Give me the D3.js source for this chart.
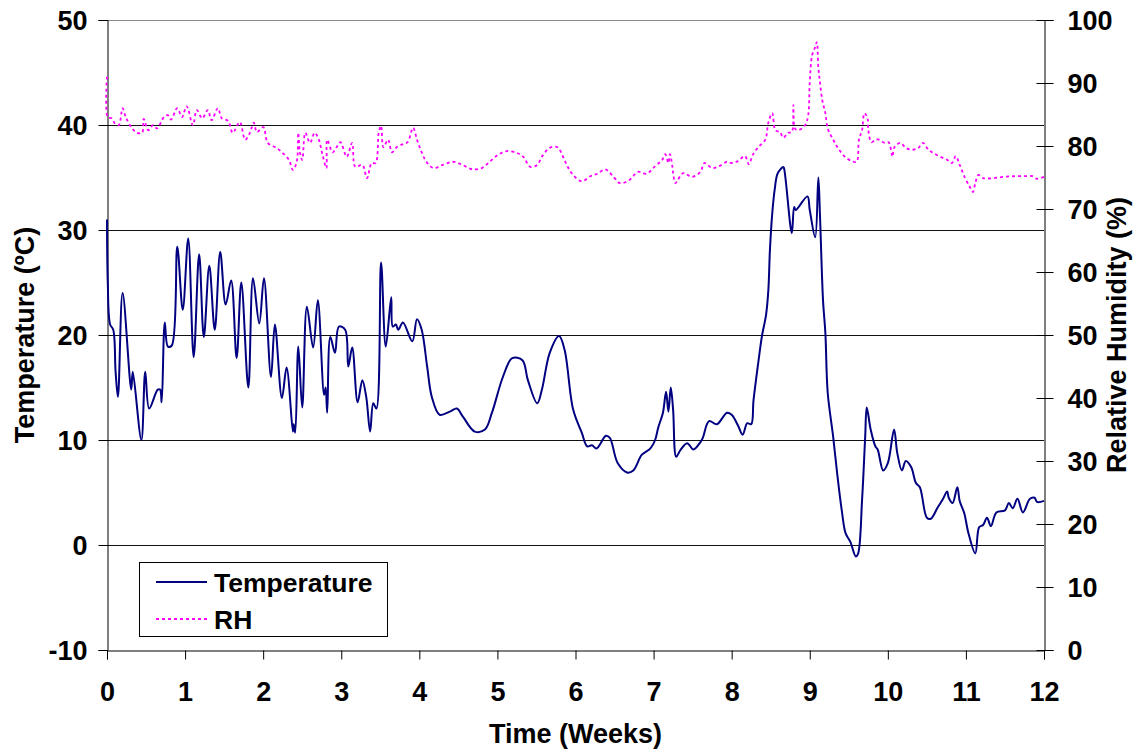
<!DOCTYPE html>
<html>
<head>
<meta charset="utf-8">
<script src="https://cdn.jsdelivr.net/npm/d3@7"></script>
<style>
  html, body { margin: 0; padding: 0; background: #fff; }
  svg { display: block; }
  text { font-family: "Liberation Sans", Arial, sans-serif; font-weight: bold; fill: #000; }
</style>
</head>
<body>
<svg id="chart" width="1138" height="754"></svg>
<script>
// Logged temperature (°C) over time (weeks)
const tempWeeks = [0.00,0.01,0.04,0.08,0.11,0.14,0.20,0.31,0.33,0.44,0.49,0.54,0.65,0.68,0.70,0.74,0.78,0.83,0.90,0.97,1.04,1.11,1.18,1.24,1.31,1.38,1.45,1.52,1.59,1.66,1.72,1.81,1.87,1.95,2.01,2.10,2.15,2.24,2.30,2.38,2.39,2.41,2.45,2.50,2.56,2.64,2.70,2.78,2.80,2.82,2.86,2.92,2.97,3.05,3.09,3.14,3.21,3.27,3.32,3.37,3.41,3.45,3.51,3.57,3.64,3.66,3.70,3.73,3.79,3.91,3.97,4.03,4.10,4.16,4.26,4.39,4.48,4.56,4.71,4.84,4.93,5.07,5.19,5.32,5.39,5.51,5.57,5.67,5.79,5.86,5.97,6.08,6.15,6.21,6.27,6.39,6.44,6.54,6.66,6.74,6.85,6.96,7.02,7.06,7.12,7.16,7.19,7.22,7.25,7.29,7.34,7.43,7.51,7.60,7.63,7.71,7.81,7.94,8.00,8.08,8.14,8.20,8.25,8.28,8.35,8.39,8.44,8.47,8.49,8.52,8.55,8.59,8.66,8.67,8.77,8.80,8.82,8.97,9.00,9.07,9.11,9.13,9.17,9.20,9.23,9.30,9.35,9.41,9.46,9.52,9.59,9.62,9.67,9.71,9.73,9.78,9.84,9.87,9.94,10.00,10.08,10.12,10.18,10.23,10.30,10.36,10.41,10.50,10.55,10.64,10.70,10.76,10.78,10.83,10.89,10.92,10.98,11.03,11.12,11.17,11.22,11.27,11.32,11.39,11.50,11.55,11.60,11.66,11.73,11.82,11.88,11.91,12.00];
const tempValues = [31.0,25.0,21.0,20.5,16.5,14.1,24.0,14.8,16.5,10.0,16.5,13.0,14.8,14.8,13.6,21.2,18.9,19.0,28.4,22.4,29.2,17.9,27.7,19.8,26.6,20.5,27.9,22.9,25.2,17.8,25.0,15.0,25.4,21.1,25.4,16.0,21.0,14.0,16.9,10.8,11.5,10.7,18.9,13.1,22.7,18.8,23.3,14.3,15.0,12.6,19.8,18.3,20.8,20.5,17.0,18.8,13.6,15.7,14.1,10.8,13.5,13.0,26.9,18.9,23.6,20.8,21.0,20.5,21.2,19.4,21.5,20.5,17.0,14.1,12.4,12.7,13.0,12.2,10.8,11.0,12.6,16.0,17.8,17.6,15.7,13.5,14.8,18.3,19.9,18.6,12.9,10.7,9.4,9.5,9.2,10.4,10.2,7.8,6.9,7.1,8.6,9.2,10.0,11.2,12.6,14.6,12.7,15.0,12.9,8.4,9.0,9.7,9.1,9.8,10.2,11.8,11.5,12.6,12.4,11.4,10.5,11.6,11.5,13.8,17.9,20.0,21.9,24.3,28.1,31.6,33.8,35.4,36.0,35.9,29.7,32.2,31.9,33.2,31.9,29.3,35.0,31.6,23.3,20.2,14.5,10.3,6.9,3.3,1.1,0.3,-1.1,-0.8,4.3,10.3,13.1,11.0,9.4,9.1,7.1,7.8,11.0,8.8,7.1,8.0,7.4,5.9,5.5,2.6,2.5,3.6,4.3,5.1,4.5,4.0,5.5,4.2,3.0,1.2,-0.8,1.7,1.9,2.6,1.8,3.1,3.3,4.0,3.5,4.4,3.1,4.4,4.5,4.1,4.2];

// Relative humidity (%) over time (weeks)
const rhWeeks = [0.00,0.01,0.06,0.10,0.15,0.20,0.24,0.31,0.38,0.45,0.47,0.53,0.59,0.64,0.73,0.78,0.82,0.90,0.96,1.02,1.10,1.15,1.22,1.29,1.34,1.42,1.47,1.55,1.61,1.70,1.77,1.83,1.88,1.92,2.00,2.06,2.17,2.24,2.33,2.38,2.43,2.45,2.47,2.50,2.54,2.60,2.66,2.71,2.76,2.81,2.82,2.89,2.94,2.99,3.07,3.14,3.18,3.27,3.33,3.39,3.44,3.48,3.51,3.54,3.60,3.65,3.71,3.79,3.85,3.92,3.97,4.03,4.09,4.18,4.30,4.43,4.55,4.68,4.80,4.90,5.01,5.12,5.25,5.33,5.42,5.51,5.57,5.67,5.77,5.84,5.90,5.97,6.08,6.19,6.28,6.38,6.48,6.57,6.69,6.80,6.91,7.02,7.11,7.15,7.19,7.21,7.24,7.25,7.28,7.31,7.38,7.49,7.60,7.65,7.75,7.84,7.94,8.00,8.08,8.17,8.22,8.27,8.34,8.43,8.47,8.52,8.56,8.62,8.66,8.72,8.77,8.79,8.81,8.85,8.94,8.98,9.00,9.03,9.07,9.09,9.11,9.13,9.16,9.20,9.23,9.30,9.36,9.45,9.54,9.60,9.63,9.67,9.70,9.74,9.75,9.79,9.84,9.89,9.96,10.01,10.06,10.08,10.16,10.23,10.31,10.39,10.45,10.52,10.58,10.67,10.76,10.82,10.87,10.92,10.99,11.05,11.09,11.12,11.16,11.22,11.35,11.48,11.61,11.73,11.85,11.91,12.00];
const rhValues = [91.0,84.6,84.4,83.6,83.3,86.0,84.6,83.0,82.1,82.1,84.3,82.5,83.3,82.8,84.6,84.9,84.2,86.0,84.6,86.3,83.3,85.7,84.4,85.7,84.1,86.0,84.4,84.0,82.1,83.8,81.0,82.1,83.7,82.2,83.0,80.5,79.7,79.0,77.8,76.2,77.5,82.1,79.0,77.8,82.1,80.5,82.1,81.1,78.6,76.5,81.0,79.0,79.8,80.6,78.3,80.5,76.7,77.0,74.9,77.3,77.3,82.1,83.2,79.8,81.0,79.0,79.8,80.3,80.6,82.9,81.0,79.0,77.5,76.5,77.0,77.5,77.0,76.3,76.5,77.5,78.6,79.2,78.9,78.3,76.7,77.0,78.3,79.7,79.8,78.3,76.7,75.4,74.4,75.2,75.6,76.3,75.2,74.1,74.6,75.9,75.6,76.8,77.8,78.7,77.3,78.7,76.8,75.7,74.1,74.6,75.7,75.1,75.9,77.3,76.5,76.8,77.5,77.3,77.6,78.4,77.1,78.6,79.8,81.0,83.7,85.2,82.5,82.2,81.3,82.1,82.2,86.5,82.8,82.5,83.3,84.9,90.0,94.4,95.7,96.5,92.5,90.2,87.3,85.2,82.8,81.0,79.7,78.3,77.6,77.5,81.0,82.5,85.2,84.4,82.5,80.6,81.0,81.0,80.5,80.6,78.3,79.7,80.5,79.7,79.4,79.7,80.5,79.4,78.9,78.3,77.8,77.3,78.4,77.0,74.9,73.5,72.7,74.1,75.4,74.9,74.9,75.1,75.2,75.2,75.2,74.8,75.1];

const weekTicks = [0,1,2,3,4,5,6,7,8,9,10,11,12];
const tempTicks = [-10,0,10,20,30,40,50];
const rhTicks = [0,10,20,30,40,50,60,70,80,90,100];

const seriesNames = ["Temperature", "RH"];
const xTitle = "Time (Weeks)";
const yLeftTitle = "Temperature (ºC)";
const yRightTitle = "Relative Humidity (%)";

const margin = { left: 107, right: 1044, top: 20, bottom: 650 };
const svg = d3.select("#chart");

const x = d3.scaleLinear().domain([0, 12]).range([margin.left, margin.right]);
const yT = d3.scaleLinear().domain([-10, 50]).range([margin.bottom, margin.top]);
const yRH = d3.scaleLinear().domain([0, 100]).range([margin.bottom, margin.top]);

const crisp = v => Math.round(v) + 0.5;
const plain = d => String(d);   // keeps an ASCII hyphen for negatives

// horizontal gridlines at temperature ticks
svg.append("g").selectAll("line").data(tempTicks.filter(t => t > -10)).join("line")
  .attr("x1", margin.left).attr("x2", margin.right)
  .attr("y1", d => crisp(yT(d))).attr("y2", d => crisp(yT(d)))
  .attr("stroke", d => d === 50 ? "#8a8a8a" : "#111").attr("stroke-width", 1);

// left axis
const gL = svg.append("g").attr("transform", `translate(${crisp(margin.left)},0)`)
  .call(d3.axisLeft(yT).tickValues(tempTicks).tickSize(9).tickPadding(11).tickFormat(plain));
// bottom axis
const gB = svg.append("g").attr("transform", `translate(0,${crisp(margin.bottom)})`)
  .call(d3.axisBottom(x).tickValues(weekTicks).tickSize(9).tickPadding(22).tickFormat(plain));
// right axis (ticks cross the axis line)
const gR = svg.append("g").attr("transform", `translate(${crisp(margin.right)},0)`)
  .call(d3.axisRight(yRH).tickValues(rhTicks).tickSize(9).tickPadding(14).tickFormat(plain));
gR.selectAll(".tick line").attr("x1", -8);

[gL, gB, gR].forEach(g => {
  g.select(".domain").attr("stroke", "#000").attr("stroke-width", 1);
  g.selectAll(".tick line").attr("stroke", "#000");
  g.selectAll("text").style("font-size", "27px").style("font-weight", "bold")
    .style("font-family", '"Liberation Sans", Arial, sans-serif').attr("fill", "#000");
});
gL.selectAll(".tick text").attr("dy", "0.36em");
gR.selectAll(".tick text").attr("dy", "0.36em");
gB.selectAll(".tick text").attr("dy", "0.71em");

// series
const tempData = tempWeeks.map((w, i) => [w, tempValues[i]]);
const rhData = rhWeeks.map((w, i) => [w, rhValues[i]]);

svg.append("path").datum(rhData)
  .attr("fill", "none").attr("stroke", "#ff00ff").attr("stroke-width", 1.8)
  .attr("stroke-dasharray", "3,3")
  .attr("d", d3.line().x(d => x(d[0])).y(d => yRH(d[1])).curve(d3.curveCatmullRom.alpha(0.5)));

svg.append("path").datum(tempData)
  .attr("fill", "none").attr("stroke", "#000080").attr("stroke-width", 2)
  .attr("stroke-linejoin", "round")
  .attr("d", d3.line().x(d => x(d[0])).y(d => yT(d[1])).curve(d3.curveCatmullRom.alpha(0.5)));

// axis titles
svg.append("text").attr("x", (margin.left + margin.right) / 2).attr("y", 743)
  .attr("text-anchor", "middle").style("font-size", "27px").text(xTitle);
svg.append("text").attr("transform", `translate(34,${(margin.top + margin.bottom) / 2}) rotate(-90)`)
  .attr("text-anchor", "middle").style("font-size", "27px").text(yLeftTitle);
svg.append("text").attr("transform", `translate(1126,${(margin.top + margin.bottom) / 2}) rotate(-90)`)
  .attr("text-anchor", "middle").style("font-size", "27px").text(yRightTitle);

// legend
const lg = svg.append("g");
lg.append("rect").attr("x", 139.5).attr("y", 562.5).attr("width", 248).attr("height", 74)
  .attr("fill", "#fff").attr("stroke", "#000").attr("stroke-width", 1);
const legendStyles = [
  { color: "#000080", dash: null, width: 2 },
  { color: "#ff00ff", dash: "3,3", width: 1.8 }
];
seriesNames.forEach((name, i) => {
  const cy = 582 + i * 37;
  lg.append("line").attr("x1", 156).attr("x2", 207).attr("y1", cy).attr("y2", cy)
    .attr("stroke", legendStyles[i].color).attr("stroke-width", legendStyles[i].width)
    .attr("stroke-dasharray", legendStyles[i].dash);
  lg.append("text").attr("x", 214).attr("y", cy).attr("dy", "0.36em")
    .style("font-size", "26.5px").text(name);
});
</script>
</body>
</html>
